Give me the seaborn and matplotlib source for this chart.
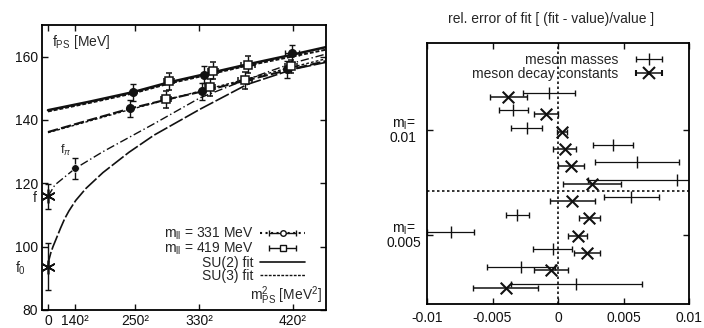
import numpy as np
import pandas as pd
import matplotlib
matplotlib.use("Agg")
import matplotlib.pyplot as plt
import seaborn as sns
from matplotlib.lines import Line2D
from matplotlib.container import ErrorbarContainer
from matplotlib.legend_handler import HandlerErrorbar

# ---------------- data: left panel ----------------
upper_x = [61200, 87120, 112320, 118800, 144000, 175680]
upper_f = [148.8, 152.2, 154.3, 155.6, 157.5, 161.0]
upper_err = [2.7, 2.6, 2.6, 2.6, 2.7, 2.6]
upper_xerr = [0, 3500, 0, 3500, 5000, 4800]
upper_kind = ["c", "s", "c", "s", "s", "c"]

lower_x = [59040, 84960, 110880, 116640, 141840, 172080, 174960]
lower_f = [143.7, 146.5, 149.0, 150.3, 152.5, 156.0, 156.9]
lower_err = [2.7, 2.6, 2.7, 2.6, 2.6, 2.6, 2.0]
lower_xerr = [0, 3500, 0, 3500, 5000, 0, 4000]
lower_kind = ["c", "s", "c", "s", "s", "c", "s"]

chiral_x = [0, 19600, 0]
chiral_f = [115.9, 124.7, 93.7]
chiral_err = [4.0, 3.3, 7.3]

fit_up_x = [0, 30000, 61200, 87120, 112320, 144000, 175680, 200000]
su2_up_f = [143.1, 145.8, 148.8, 151.9, 154.4, 157.6, 160.6, 163.0]
su3_up_f = [142.7, 145.4, 148.4, 151.5, 154.0, 157.2, 160.0, 162.2]

fit_lo_x = [0, 30000, 59040, 84960, 110880, 141840, 172080, 200000]
su2_lo_f = [136.2, 140.0, 143.6, 146.4, 149.0, 152.4, 155.7, 158.6]
su3_lo_f = [136.0, 139.7, 143.3, 146.3, 149.3, 152.8, 156.3, 159.3]

fpi_x = [0, 5000, 19600, 39600, 76320, 109440, 141840, 176400, 200000]
fpi_f = [115.9, 119.5, 124.7, 130.0, 138.8, 147.0, 152.6, 158.0, 160.8]

f0_x = [0, 800, 2000, 3600, 5760, 9000, 12000, 15120, 20000, 27360, 39600, 58320, 76320, 109440, 143280, 176400, 200000]
f0_f = [93.7, 96.0, 98.0, 100.0, 102.3, 105.8, 108.8, 111.3, 114.6, 118.4, 123.4, 129.8, 135.2, 143.4, 151.2, 156.0, 158.2]

x_tick_vals = [0, 140**2, 250**2, 330**2, 420**2]
x_tick_labels = ["0", "140²", "250²", "330²", "420²"]

# ---------------- data: right panel ----------------
row_pos = [0, 1, 2, 3, 4, 5, 6, 7, 8, 9, 10, 11]
mass_err_rel = [-0.0007, -0.0034, -0.0024, 0.0042, 0.0060, 0.0091, 0.0056, -0.0031, -0.0082, -0.0004, -0.0028, 0.0014]
mass_unc = [0.0020, 0.0011, 0.0012, 0.0015, 0.0032, 0.0068, 0.0021, 0.0009, 0.0018, 0.0015, 0.0026, 0.0050]
decay_err_rel = [-0.0038, -0.0009, 0.0003, 0.0005, 0.0010, 0.0026, 0.0011, 0.0024, 0.0015, 0.0022, -0.0005, -0.0040]
decay_unc = [0.0014, 0.0009, 0.0004, 0.0009, 0.0010, 0.0022, 0.0017, 0.0008, 0.0007, 0.0010, 0.0013, 0.0025]
group_labels = ["m$_\\mathrm{l}$=\n0.01", "m$_\\mathrm{l}$=\n0.005"]
group_tick_pos = [2.13, 8.18]
right_xticks = [-0.01, -0.005, 0, 0.005, 0.01]
right_xlabels = ["-0.01", "-0.005", "0", "0.005", "0.01"]

# ---------------- style ----------------
sns.set_theme(style="ticks")
plt.rcParams["font.family"] = ["Liberation Sans", "DejaVu Sans"]
plt.rcParams["mathtext.fontset"] = "custom"
plt.rcParams["mathtext.rm"] = "Liberation Sans"
plt.rcParams["mathtext.it"] = "Liberation Sans:italic"
plt.rcParams["mathtext.bf"] = "Liberation Sans:bold"
plt.rcParams["axes.edgecolor"] = "black"
plt.rcParams["axes.linewidth"] = 1.3
FS = 10

fig = plt.figure(figsize=(7.04, 3.28), dpi=100)
axL = fig.add_axes([42/704, 1-310/328, (326-42)/704, (310-25)/328])
axR = fig.add_axes([427/704, 1-304/328, (689-427)/704, (304-43)/328])

K = "#111111"
STAR = (6, 2, 0)
HMAP = {ErrorbarContainer: HandlerErrorbar(xerr_size=0.95)}

# ---- left panel curves ----
def curve(ax, xs, ys, **kw):
    df = pd.DataFrame({"x": xs, "y": ys})
    sns.lineplot(data=df, x="x", y="y", ax=ax, estimator=None, sort=False, color=K, **kw)

curve(axL, fit_up_x, su2_up_f, lw=1.8)
curve(axL, fit_up_x, su3_up_f, lw=1.4, linestyle=(0, (2, 1)))
curve(axL, fit_lo_x, su2_lo_f, lw=1.5, linestyle=(0, (5, 1.5)))
curve(axL, fit_lo_x, su3_lo_f, lw=1.0, linestyle=(0, (2, 1.5)))
curve(axL, fpi_x, fpi_f, lw=1.0, linestyle=(0, (6, 2, 1, 2)))
curve(axL, f0_x, f0_f, lw=1.2, linestyle=(0, (9, 1.5)))

# ---- left panel points ----
def pts(ax, xs, fs, errs, xerrs, kinds):
    for x, f, e, xe, k in zip(xs, fs, errs, xerrs, kinds):
        if k == "c":
            ax.errorbar(x, f, yerr=e, xerr=xe if xe else None, fmt="o", ms=5.5,
                        mfc=K, mec=K, color=K, elinewidth=1.0, capsize=2.5, zorder=5)
        else:
            ax.errorbar(x, f, yerr=e, xerr=xe if xe else None, fmt="s", ms=5.5,
                        mfc="white", mec=K, mew=1.1, color=K, elinewidth=1.0, capsize=2.5, zorder=5)

pts(axL, upper_x, upper_f, upper_err, upper_xerr, upper_kind)
pts(axL, lower_x, lower_f, lower_err, lower_xerr, lower_kind)
axL.errorbar(chiral_x, chiral_f, yerr=chiral_err, fmt="none", ecolor=K, elinewidth=1.0, capsize=2.5, zorder=5)
sns.scatterplot(x=[chiral_x[0], chiral_x[2]], y=[chiral_f[0], chiral_f[2]], ax=axL, marker=STAR, s=90,
                color=K, edgecolor=K, linewidth=1.2, zorder=6)
sns.scatterplot(x=[chiral_x[1]], y=[chiral_f[1]], ax=axL, marker="o", s=30, color=K, zorder=6)

# legend proxies
hc = axL.errorbar([-1e6], [0], xerr=[1], fmt="o", ms=4, mfc="white", mec=K, color=K,
                  elinewidth=1.0, capsize=2.5, ls=":")
hs = axL.errorbar([-1e6], [0], xerr=[1], fmt="s", ms=4.5, mfc="white", mec=K, color=K,
                  elinewidth=1.0, capsize=2.5)
hsu2 = Line2D([], [], color=K, lw=1.2)
hsu3 = Line2D([], [], color=K, lw=1.0, linestyle=(0, (2, 1)))
axL.legend([hc, hs, hsu2, hsu3],
           ["m$_{\\mathrm{ll}}$ = 331 MeV", "m$_{\\mathrm{ll}}$ = 419 MeV", "SU(2) fit", "SU(3) fit"],
           loc="lower right", bbox_to_anchor=(0.945, 0.075), frameon=False, markerfirst=False,
           handlelength=3.2, fontsize=FS, labelspacing=-0.08, handletextpad=0.5, borderaxespad=0.0,
           handler_map=HMAP)

axL.set_xlim(-4300, 200200)
axL.set_ylim(80, 170)
axL.set_xticks(x_tick_vals)
axL.set_xticklabels(x_tick_labels, fontsize=FS)
axL.set_yticks([80, 100, 120, 140, 160])
axL.set_yticklabels(["80", "100", "120", "140", "160"], fontsize=FS)
axL.tick_params(direction="in", length=4, width=1, top=True, right=True, pad=3, colors=K)
axL.tick_params(axis="x", pad=3)
axL.set_xlabel("")
axL.set_ylabel("")
axL.text(-0.02, 115.4, "f", transform=axL.get_yaxis_transform(), ha="right", va="center", fontsize=FS)
axL.text(-0.055, 93.2, "f$_0$", transform=axL.get_yaxis_transform(), ha="right", va="center", fontsize=FS)
axL.text(0.035, 0.94, "f$_{\\mathrm{PS}}$ [MeV]", transform=axL.transAxes, ha="left", va="center", fontsize=FS)
axL.text(0.985, 0.05, "m$^2_{\\mathrm{PS}}$ [MeV$^2$]", transform=axL.transAxes, ha="right", va="center", fontsize=FS)
axL.text(12500, 130.5, "f$_\\pi$", ha="center", va="center", fontsize=9)

# ---- right panel ----
mass_y = [r for r in row_pos]
decay_y = [r + 0.22 for r in row_pos]
axR.errorbar(mass_err_rel, mass_y, xerr=mass_unc, fmt="none", ecolor=K, elinewidth=0.9, capsize=2)
sns.scatterplot(x=mass_err_rel, y=mass_y, ax=axR, marker="|", s=70, color=K, linewidth=1.0, zorder=5)
axR.errorbar(decay_err_rel, decay_y, xerr=decay_unc, fmt="none", ecolor=K, elinewidth=1.1, capsize=2)
sns.scatterplot(x=decay_err_rel, y=decay_y, ax=axR, marker="x", s=70, color=K, linewidth=1.5, zorder=5)

axR.axvline(0, color=K, ls=(0, (1.5, 1.5)), lw=1.2)
axR.axhline(5.65, color=K, ls=(0, (1.5, 1.5)), lw=1.2)

hm = axR.errorbar([5], [0], xerr=[1], fmt="|", ms=8, color=K, elinewidth=0.9, capsize=2)
hd = axR.errorbar([5], [0], xerr=[1], fmt="x", ms=8, mew=1.5, color=K, elinewidth=1.1, capsize=2)
axR.legend([hm, hd], ["meson masses", "meson decay constants"], loc="upper right",
           frameon=False, markerfirst=False, handlelength=3.2, fontsize=FS, labelspacing=0.0,
           handletextpad=0.6, borderaxespad=0.3, bbox_to_anchor=(0.97, 1.0), handler_map=HMAP)

axR.set_xlim(-0.01, 0.01)
axR.set_ylim(12.15, -2.88)
axR.set_xticks(right_xticks)
axR.set_xticklabels(right_xlabels, fontsize=FS)
axR.set_yticks(group_tick_pos)
axR.set_yticklabels(group_labels, fontsize=FS, ha="center", linespacing=0.95)
axR.tick_params(direction="in", length=4, width=1, top=True, right=True, colors=K)
axR.tick_params(axis="y", pad=17)
axR.tick_params(axis="x", pad=5)
axR.set_xlabel("")
axR.set_ylabel("")
fig.text(551/704, 1-19/328, "rel. error of fit [ (fit - value)/value ]", ha="center", va="center", fontsize=FS)

fig.savefig("out.png", dpi=100, facecolor="white")
